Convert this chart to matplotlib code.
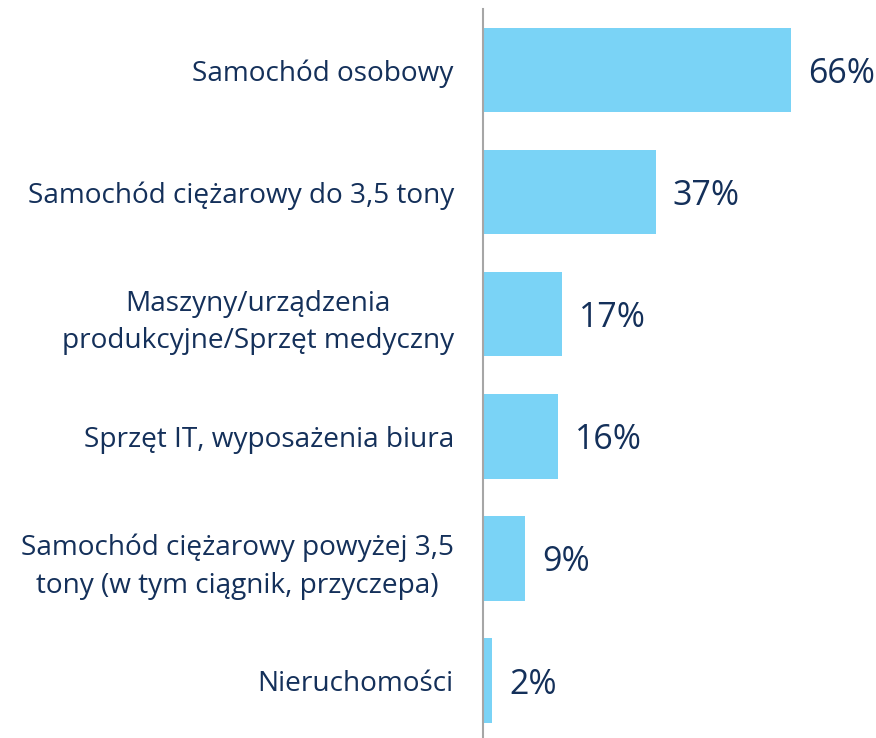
import matplotlib
matplotlib.use('Agg')
import matplotlib.pyplot as plt

categories = ["Samochód osobowy",
              "Samochód ciężarowy do 3,5 tony",
              "Maszyny/urządzenia\nprodukcyjne/Sprzęt medyczny",
              "Sprzęt IT, wyposażenia biura",
              "Samochód ciężarowy powyżej 3,5\ntony (w tym ciągnik, przyczepa)",
              "Nieruchomości"]
values = [66, 37, 17, 16, 9, 2]

navy = '#14305A'
bar_color = '#7AD3F6'

plt.rcParams['font.family'] = ['Open Sans', 'DejaVu Sans']

fig = plt.figure(figsize=(8.76, 7.38), dpi=100)
ax = fig.add_axes([483/876, 0, 1 - 483/876, 1 - 9/738])

pos = list(range(len(values)))
ax.barh(pos, values, height=0.69, color=bar_color)
for p, v in zip(pos, values):
    ax.text(v + 3.6, p, f"{v}%", va='center_baseline', ha='left',
            fontsize=24.5, color=navy)

ax.set_xlim(0, 84.2)
ax.set_ylim(5.47, -0.5)
ax.set_yticks(pos)
ax.set_yticklabels(categories, fontsize=20.2, color=navy,
                   multialignment='center', linespacing=1.45)
ax.tick_params(axis='y', length=0, pad=21)
ax.set_xticks([])
for s in ['top', 'right', 'bottom']:
    ax.spines[s].set_visible(False)
ax.spines['left'].set_color('#A6A6A6')
ax.spines['left'].set_linewidth(1.5)

fig.savefig('out.png', dpi=100)
